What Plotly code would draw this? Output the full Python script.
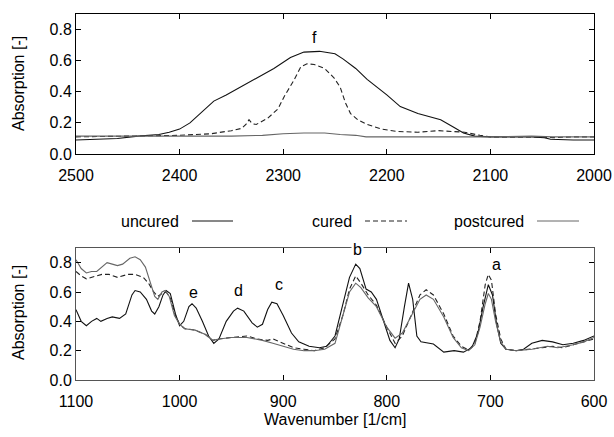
import plotly.graph_objects as go

# ---------------- Top panel (2500 - 2000 1/cm) ----------------
top_unc_wn = [2500, 2480, 2460, 2440, 2420, 2410, 2400, 2390, 2380, 2367, 2355, 2341, 2325, 2309, 2293,
              2280, 2265, 2250, 2242, 2230, 2219, 2200, 2187, 2170, 2148, 2135, 2126, 2115, 2100, 2080,
              2060, 2048, 2042, 2020, 2000]
top_unc_val = [0.09, 0.095, 0.10, 0.115, 0.125, 0.14, 0.16, 0.20, 0.26, 0.34, 0.38, 0.43, 0.49, 0.55, 0.62,
               0.655, 0.66, 0.645, 0.61, 0.55, 0.48, 0.38, 0.305, 0.26, 0.22, 0.17, 0.135, 0.115, 0.11, 0.11,
               0.11, 0.105, 0.095, 0.09, 0.09]

top_cur_wn = [2500, 2450, 2400, 2370, 2350, 2340, 2336, 2333, 2330, 2326, 2315, 2305, 2299, 2290, 2283,
              2277, 2270, 2260, 2251, 2245, 2240, 2235, 2228, 2219, 2205, 2190, 2170, 2150, 2125, 2110,
              2100, 2060, 2040, 2020, 2000]
top_cur_val = [0.11, 0.115, 0.12, 0.13, 0.15, 0.165, 0.19, 0.22, 0.195, 0.19, 0.23, 0.29, 0.37, 0.47, 0.56,
               0.58, 0.575, 0.55, 0.49, 0.43, 0.33, 0.26, 0.22, 0.19, 0.16, 0.145, 0.14, 0.15, 0.14, 0.12,
               0.11, 0.11, 0.105, 0.11, 0.11]

top_post_wn = [2500, 2450, 2400, 2350, 2320, 2300, 2280, 2260, 2245, 2230, 2220, 2150, 2100, 2060, 2040, 2000]
top_post_val = [0.115, 0.115, 0.115, 0.115, 0.12, 0.13, 0.135, 0.135, 0.125, 0.12, 0.11, 0.11, 0.11, 0.115, 0.11, 0.11]

# ---------------- Bottom panel (1100 - 600 1/cm) ----------------
bot_unc_wn = [1100, 1095, 1090, 1085, 1080, 1076, 1070, 1065, 1058, 1052, 1046, 1043, 1038, 1032, 1027,
              1024, 1020, 1016, 1013, 1009, 1004, 1000, 996, 991, 988, 984, 978, 972, 967, 962, 955, 948,
              944, 938, 930, 925, 920, 915, 911, 906, 900, 892, 885, 875, 865, 858, 850, 843, 836, 830,
              826, 820, 815, 810, 803, 797, 792, 788, 783, 779, 775, 771, 767, 755, 745, 735, 726, 718,
              712, 707, 702, 698, 694, 690, 685, 675, 668, 660, 650, 640, 630, 620, 610, 600]
bot_unc_val = [0.48, 0.40, 0.37, 0.40, 0.42, 0.40, 0.42, 0.43, 0.42, 0.45, 0.58, 0.61, 0.60, 0.55, 0.47,
               0.45, 0.50, 0.58, 0.61, 0.59, 0.45, 0.37, 0.40, 0.50, 0.52, 0.49, 0.40, 0.30, 0.25, 0.28, 0.40, 0.47,
               0.49, 0.47, 0.39, 0.36, 0.38, 0.48, 0.53, 0.52, 0.44, 0.32, 0.26, 0.23, 0.22, 0.23, 0.30, 0.50, 0.70, 0.79,
               0.76, 0.62, 0.60, 0.55, 0.40, 0.27, 0.22, 0.28, 0.50, 0.66, 0.55, 0.30, 0.26, 0.245, 0.19, 0.20, 0.19, 0.22,
               0.32, 0.50, 0.65, 0.58, 0.38, 0.25, 0.21, 0.20, 0.21, 0.25, 0.27, 0.26, 0.24, 0.25, 0.27, 0.30]

bot_cur_wn = [1100, 1095, 1090, 1085, 1075, 1068, 1060, 1050, 1043, 1035, 1030, 1025, 1021, 1017, 1013,
              1009, 1004, 1000, 995, 985, 975, 968, 962, 950, 935, 925, 915, 910, 900, 890, 880, 870, 860,
              850, 842, 836, 830, 825, 818, 810, 800, 792, 785, 775, 768, 762, 755, 745, 736, 728, 721,
              715, 710, 705, 702, 699, 695, 690, 685, 675, 660, 650, 640, 630, 620, 610, 600]
bot_cur_val = [0.74, 0.71, 0.69, 0.70, 0.72, 0.72, 0.70, 0.72, 0.72, 0.70, 0.66, 0.60, 0.57, 0.59, 0.60,
               0.56, 0.44, 0.38, 0.35, 0.34, 0.31, 0.27, 0.28, 0.29, 0.30, 0.28, 0.27, 0.28, 0.25, 0.22, 0.21, 0.20, 0.22,
               0.28, 0.45, 0.62, 0.71, 0.66, 0.58, 0.51, 0.36, 0.25, 0.30, 0.47, 0.58, 0.615, 0.58, 0.45, 0.30, 0.23, 0.205,
               0.25, 0.40, 0.65, 0.72, 0.68, 0.45, 0.28, 0.21, 0.20, 0.21, 0.22, 0.23, 0.22, 0.24, 0.26, 0.28]

bot_post_wn = [1100, 1095, 1090, 1085, 1080, 1075, 1070, 1065, 1060, 1055, 1048, 1043, 1038, 1033, 1028,
               1024, 1021, 1017, 1014, 1010, 1005, 1000, 995, 985, 975, 968, 962, 950, 935, 920, 910, 900,
               890, 880, 870, 860, 850, 842, 836, 830, 825, 818, 810, 800, 792, 785, 775, 768, 762, 755,
               745, 736, 728, 721, 715, 710, 705, 702, 699, 695, 690, 685, 675, 660, 645, 635, 620, 610, 600]
bot_post_val = [0.82, 0.76, 0.73, 0.74, 0.74, 0.77, 0.80, 0.79, 0.78, 0.79, 0.83, 0.84, 0.82, 0.77, 0.66,
                0.57, 0.55, 0.60, 0.61, 0.57, 0.44, 0.38, 0.35, 0.34, 0.31, 0.27, 0.28, 0.29, 0.29, 0.27, 0.25, 0.23,
                0.21, 0.20, 0.20, 0.21, 0.25, 0.45, 0.60, 0.66, 0.63, 0.56, 0.50, 0.36, 0.285, 0.32, 0.45, 0.55, 0.58, 0.55,
                0.43, 0.29, 0.22, 0.20, 0.24, 0.36, 0.52, 0.59, 0.55, 0.40, 0.26, 0.21, 0.20, 0.21, 0.23, 0.22, 0.24, 0.26, 0.29]

legend_names = ["uncured", "cured", "postcured"]
top_labels = [("f", 2270, 0.75)]
bot_labels = [("e", 987, 0.60), ("d", 943, 0.61), ("c", 904, 0.65), ("b", 828, 0.89), ("a", 694, 0.79)]
y_ticks = [0.0, 0.2, 0.4, 0.6, 0.8]
top_x_ticks = [2500, 2400, 2300, 2200, 2100, 2000]
bot_x_ticks = [1100, 1000, 900, 800, 700, 600]

FONT = "Liberation Sans, Arial, sans-serif"
FS = 16
styles = {
    "uncured": dict(color="#111111", width=1.1, dash="solid"),
    "cured": dict(color="#222222", width=1.1, dash="5px,3px"),
    "postcured": dict(color="#666666", width=1.1, dash="solid"),
}

fig = go.Figure()
for name, wn, val in [("uncured", top_unc_wn, top_unc_val), ("cured", top_cur_wn, top_cur_val),
                      ("postcured", top_post_wn, top_post_val)]:
    fig.add_trace(go.Scatter(x=wn, y=val, mode="lines", name=name, line=styles[name],
                             xaxis="x", yaxis="y", showlegend=False))
for name, wn, val in [("uncured", bot_unc_wn, bot_unc_val), ("cured", bot_cur_wn, bot_cur_val),
                      ("postcured", bot_post_wn, bot_post_val)]:
    fig.add_trace(go.Scatter(x=wn, y=val, mode="lines", name=name, line=styles[name],
                             xaxis="x2", yaxis="y2", showlegend=False))

XD = [76/614, 594/614]
common = dict(ticks="inside", ticklen=5, tickcolor="black", showgrid=False, zeroline=False,
              automargin=False, tickfont=dict(family=FONT, size=FS, color="black"), mirror="ticks")

fig.update_layout(
    width=614, height=437, margin=dict(l=0, r=0, t=0, b=0),
    paper_bgcolor="white", plot_bgcolor="white",
    font=dict(family=FONT, size=FS, color="black"),
    xaxis=dict(domain=XD, range=[2500, 2000], tickvals=top_x_ticks, anchor="y", ticklabelstandoff=7,
               showline=True, linecolor="black", linewidth=1, **common),
    yaxis=dict(domain=[1 - 154/437, 1 - 14/437], range=[0, 0.9], tickvals=y_ticks, tickformat=".1f", anchor="x",
               showline=True, linecolor="black", linewidth=1, **common),
    xaxis2=dict(domain=XD, range=[1100, 600], tickvals=bot_x_ticks, anchor="y2", ticklabelstandoff=7,
                showline=True, linecolor="#555555", linewidth=1, **common),
    yaxis2=dict(domain=[1 - 380/437, 1 - 248/437], range=[0, 0.9], tickvals=y_ticks, tickformat=".1f", anchor="x2",
                showline=True, linecolor="#555555", linewidth=1, **common),
)

for t, x, y in top_labels:
    fig.add_annotation(x=x, y=y, xref="x", yref="y", text=t, showarrow=False,
                       font=dict(family=FONT, size=FS))
for t, x, y in bot_labels:
    fig.add_annotation(x=x, y=y, xref="x2", yref="y2", text=t, showarrow=False,
                       bgcolor="white" if t == "b" else None,
                       font=dict(family=FONT, size=FS))

# axis titles
fig.add_annotation(x=18/614, y=1 - 84/437, xref="paper", yref="paper", text="Absorption [-]",
                   xanchor="center", yanchor="middle",
                   textangle=-90, showarrow=False, font=dict(family=FONT, size=FS))
fig.add_annotation(x=18/614, y=1 - 313/437, xref="paper", yref="paper", text="Absorption [-]",
                   xanchor="center", yanchor="middle",
                   textangle=-90, showarrow=False, font=dict(family=FONT, size=FS))
fig.add_annotation(x=335/614, y=1 - 419/437, xref="paper", yref="paper", text="Wavenumber [1/cm]",
                   xanchor="center", yanchor="middle",
                   showarrow=False, font=dict(family=FONT, size=FS))

# custom legend (text followed by line sample)
leg_y = 1 - 221/437
leg_items = [(legend_names[0], 181, 192, 233), (legend_names[1], 354, 365, 407), (legend_names[2], 526, 537, 579)]
for name, text_right, l0, l1 in leg_items:
    fig.add_annotation(x=text_right/614, y=leg_y, xref="paper", yref="paper", text=name,
                       xanchor="right", yanchor="middle", showarrow=False, font=dict(family=FONT, size=FS))
    st = styles[name]
    fig.add_shape(type="line", xref="paper", yref="paper", x0=l0/614, x1=l1/614, y0=leg_y, y1=leg_y,
                  line=dict(color=st["color"], width=1, dash=st["dash"]))

fig.write_html("out.html")
